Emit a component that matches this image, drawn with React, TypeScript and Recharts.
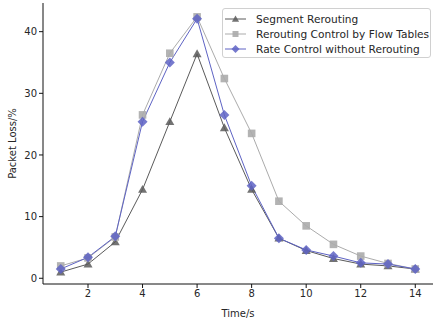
import React from 'react';
import { LineChart, Line, XAxis, YAxis } from 'recharts';

const times = [1, 2, 3, 4, 5, 6, 7, 8, 9, 10, 11, 12, 13, 14];
const segmentRerouting = [1.0, 2.3, 5.9, 14.4, 25.4, 36.4, 24.4, 14.4, 6.5, 4.5, 3.2, 2.3, 2.0, 1.5];
const flowTables = [2.0, 3.3, 6.7, 26.5, 36.5, 42.4, 32.4, 23.5, 12.5, 8.5, 5.5, 3.6, 2.4, 1.5];
const rateControl = [1.5, 3.4, 6.8, 25.4, 35.0, 42.1, 26.5, 15.0, 6.5, 4.6, 3.6, 2.5, 2.3, 1.5];
const xTicks = [2, 4, 6, 8, 10, 12, 14];
const yTicks = [0, 10, 20, 30, 40];

const FONT = '"DejaVu Sans", sans-serif';
const INK = '#262626';

const SEG = '#5a5a5a';
const FLOW = '#ababab';
const RATE = '#5e63c4';

const data = times.map((t, i) => ({
  t,
  seg: segmentRerouting[i],
  flow: flowTables[i],
  rate: rateControl[i],
}));

function Triangle({ cx, cy, color, r = 4.5 }: any) {
  return (
    <path
      d={`M${cx},${cy - r} L${cx + r},${cy + r * 0.75} L${cx - r},${cy + r * 0.75} Z`}
      fill={color}
      fillOpacity={0.85}
    />
  );
}

function Square({ cx, cy, color, r = 3.8 }: any) {
  return <rect x={cx - r} y={cy - r} width={r * 2} height={r * 2} fill={color} fillOpacity={0.9} />;
}

function Diamond({ cx, cy, color, r = 5 }: any) {
  return (
    <path
      d={`M${cx},${cy - r} L${cx + r},${cy} L${cx},${cy + r} L${cx - r},${cy} Z`}
      fill={color}
      fillOpacity={0.85}
    />
  );
}

const series = [
  { key: 'seg', name: 'Segment Rerouting', color: SEG, Marker: Triangle, lr: 3.6 },
  { key: 'flow', name: 'Rerouting Control by Flow Tables', color: FLOW, Marker: Square, lr: 3 },
  { key: 'rate', name: 'Rate Control without Rerouting', color: RATE, Marker: Diamond, lr: 4 },
];

// legend drawn as an overlay so it does not take space from the plot
function LegendBox() {
  return (
    <div
      style={{
        position: 'absolute',
        left: 222,
        top: 8,
        width: 209,
        height: 50,
        boxSizing: 'border-box',
        border: '1px solid #d0d0d0',
        borderRadius: 3,
        background: 'rgba(255,255,255,0.8)',
        padding: '2px 0 0 2px',
        fontFamily: FONT,
        fontSize: 10.6,
        color: INK,
      }}
    >
      {series.map((s) => (
        <div key={s.key} style={{ display: 'flex', alignItems: 'center', height: 15 }}>
          <svg width={22} height={12} style={{ marginRight: 9 }}>
            <line x1={0} y1={6} x2={21} y2={6} stroke={s.color} strokeWidth={1} />
            <s.Marker cx={10.5} cy={6} color={s.color} r={s.lr} />
          </svg>
          <span style={{ whiteSpace: 'nowrap' }}>{s.name}</span>
        </div>
      ))}
    </div>
  );
}

export default function App() {
  const tick = { fontFamily: FONT, fontSize: 10, fill: INK };
  return (
    <div style={{ position: 'absolute', left: 0, top: 0, width: 435, height: 320, background: '#fff' }}>
      <LineChart width={435} height={320} data={data} margin={{ top: 3, right: 2, left: 0, bottom: 0 }}>
        <XAxis
          xAxisId="b"
          dataKey="t"
          type="number"
          domain={[0.35, 14.65]}
          ticks={xTicks}
          allowDataOverflow
          height={36}
          tick={tick}
          tickSize={4}
          stroke="#111"
          tickLine={{ stroke: '#111' }}
          label={{ value: 'Time/s', position: 'insideBottom', offset: 3, style: { ...tick, textAnchor: 'middle' } }}
        />
        <XAxis xAxisId="top" orientation="top" type="number" domain={[0.35, 14.65]} height={0} tick={false} tickLine={false} stroke="#111" />
        <YAxis
          yAxisId="l"
          type="number"
          domain={[-0.93, 44.65]}
          ticks={yTicks}
          allowDataOverflow
          width={43}
          tick={tick}
          tickSize={4}
          stroke="#111"
          tickLine={{ stroke: '#111' }}
          label={{ value: 'Packet Loss/%', angle: -90, position: 'insideLeft', offset: 12, style: { ...tick, textAnchor: 'middle' } }}
        />
        <YAxis yAxisId="r" orientation="right" type="number" domain={[-0.93, 44.65]} width={0} tick={false} tickLine={false} stroke="#111" />
        {series.map((s) => (
          <Line
            key={s.key}
            xAxisId="b"
            yAxisId="l"
            dataKey={s.key}
            name={s.name}
            stroke={s.color}
            strokeWidth={1}
            isAnimationActive={false}
            dot={(p: any) => <s.Marker key={`${s.key}-${p.index}`} cx={p.cx} cy={p.cy} color={s.color} />}
            activeDot={false}
          />
        ))}
      </LineChart>
      <LegendBox />
    </div>
  );
}
